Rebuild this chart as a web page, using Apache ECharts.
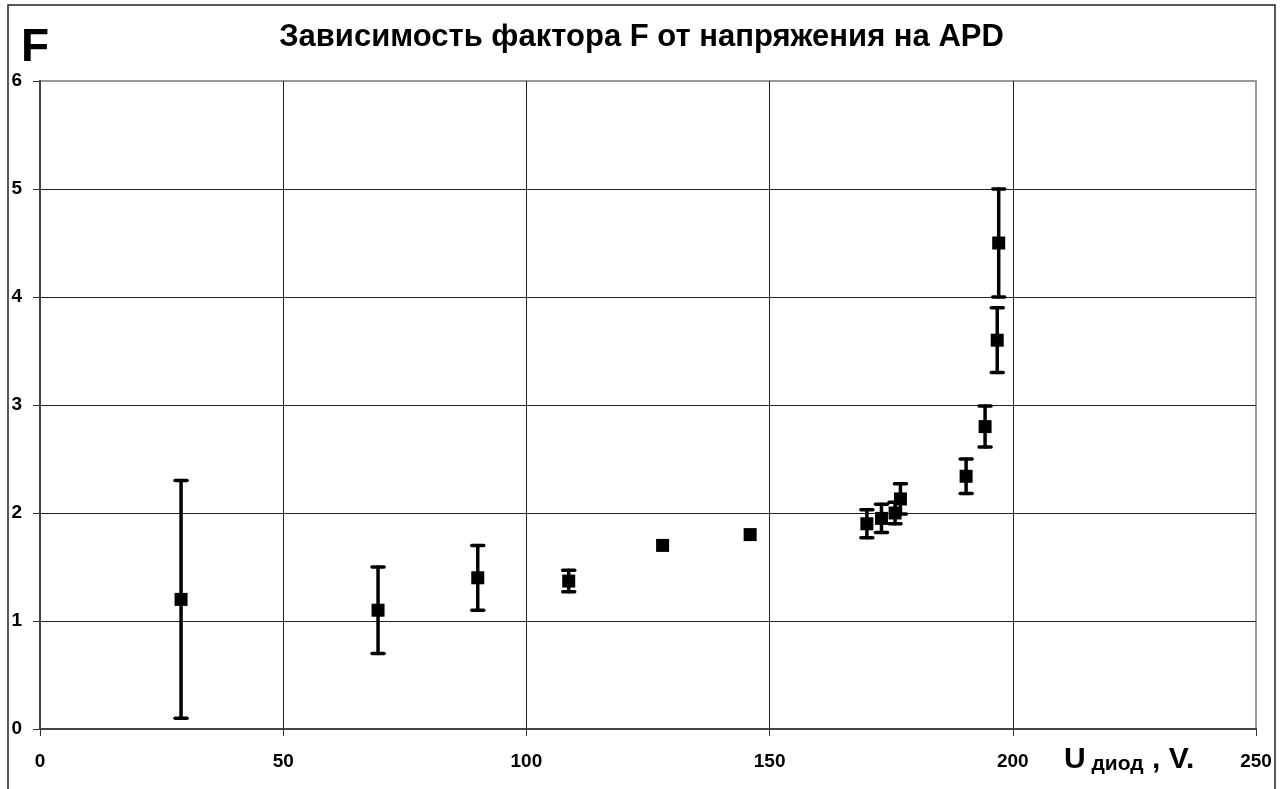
<!DOCTYPE html>
<html>
<head>
<meta charset="utf-8">
<script src="https://cdn.jsdelivr.net/npm/echarts@6/dist/echarts.min.js"></script>
<style>
  html, body { margin: 0; padding: 0; background: #fff; }
  #chart { width: 1283px; height: 789px; }
</style>
</head>
<body>
<div id="chart"></div>
<script>
// Measured excess noise factor F of the APD vs. diode bias voltage
const voltage = [29, 69.5, 90, 108.7, 128, 146, 170, 173, 175.8, 176.9, 190.4, 194.3, 196.8, 197.1];
const factorF = [1.2, 1.1, 1.4, 1.37, 1.7, 1.8, 1.9, 1.95, 2.0, 2.13, 2.34, 2.8, 3.6, 4.5];
const errorF  = [1.1, 0.4, 0.3, 0.1, 0.02, 0.02, 0.13, 0.13, 0.1, 0.14, 0.16, 0.19, 0.3, 0.5];

const xTicks = [0, 50, 100, 150, 200, 250];
const yTicks = [0, 1, 2, 3, 4, 5, 6];

const FONT = '"Liberation Sans", Arial, sans-serif';
const MARKER = 13;

const points = voltage.map((v, i) => [v, factorF[i]]);
const bars = voltage.map((v, i) => [v, factorF[i], errorF[i]]);

const chart = echarts.init(document.getElementById('chart'), null, { renderer: 'canvas' });

chart.setOption({
  backgroundColor: '#fff',
  animation: false,
  title: {
    text: 'Зависимость фактора F от напряжения на APD',
    left: 'center',
    top: 17,
    textStyle: { fontFamily: FONT, fontWeight: 'bold', fontSize: 31, color: '#000' }
  },
  graphic: [
    {
      type: 'rect',
      shape: { x: 8, y: 5, width: 1267, height: 820 },
      style: { fill: 'none', stroke: '#222', lineWidth: 1.5 },
      silent: true, z: -1
    },
    {
      type: 'text',
      left: 21, top: 25,
      style: { text: 'F', fontFamily: FONT, fontWeight: 'bold', fontSize: 46, fill: '#000' }
    },
    {
      type: 'text',
      left: 1064, top: 745,
      style: {
        text: '{b|U}{s| диод}{b| , V.}',
        fontFamily: FONT,
        rich: {
          b: { fontFamily: FONT, fontWeight: 'bold', fontSize: 30, fill: '#000', verticalAlign: 'bottom' },
          s: { fontFamily: FONT, fontWeight: 'bold', fontSize: 21, fill: '#000', padding: [9, 0, 0, 0], verticalAlign: 'bottom' }
        }
      }
    }
  ],
  grid: { left: 40, top: 81, right: 27, bottom: 60, containLabel: false,
          show: true, borderColor: '#999', borderWidth: 2, backgroundColor: '#fff' },
  xAxis: {
    type: 'value',
    min: xTicks[0], max: xTicks[xTicks.length - 1], interval: xTicks[1] - xTicks[0],
    axisLine: { show: true, onZero: false, lineStyle: { color: '#444', width: 2 } },
    axisTick: { show: true, length: 7, lineStyle: { color: '#333', width: 1 } },
    axisLabel: { margin: 23, fontFamily: FONT, fontWeight: 'bold', fontSize: 19, color: '#000' },
    splitLine: { show: true, lineStyle: { color: ['#222', '#222', '#222', '#222', '#222', '#999'], width: 1 } }
  },
  yAxis: {
    type: 'value',
    min: yTicks[0], max: yTicks[yTicks.length - 1], interval: yTicks[1] - yTicks[0],
    axisLine: { show: true, onZero: false, lineStyle: { color: '#444', width: 2 } },
    axisTick: { show: true, length: 7, lineStyle: { color: '#333', width: 1 } },
    axisLabel: { margin: 18, fontFamily: FONT, fontWeight: 'bold', fontSize: 19, color: '#000' },
    splitLine: { show: true, lineStyle: { color: ['#222', '#222', '#222', '#222', '#222', '#222', '#999'], width: 1 } }
  },
  series: [
    {
      // vertical error bars with end caps; bars shorter than the marker stay hidden behind it
      type: 'custom',
      data: bars,
      z: 3,
      renderItem: function (params, api) {
        const x = api.value(0), y = api.value(1), e = api.value(2);
        const top = api.coord([x, y + e]);
        const bot = api.coord([x, y - e]);
        if (bot[1] - top[1] < MARKER) return { type: 'group', children: [] };
        const cap = 6;
        const style = { stroke: '#000', lineWidth: 3.5, lineCap: 'round' };
        return {
          type: 'group',
          children: [
            { type: 'line', shape: { x1: top[0], y1: top[1], x2: bot[0], y2: bot[1] }, style: style },
            { type: 'line', shape: { x1: top[0] - cap, y1: top[1], x2: top[0] + cap, y2: top[1] }, style: style },
            { type: 'line', shape: { x1: bot[0] - cap, y1: bot[1], x2: bot[0] + cap, y2: bot[1] }, style: style }
          ]
        };
      }
    },
    {
      type: 'scatter',
      data: points,
      symbol: 'rect',
      symbolSize: MARKER,
      z: 4,
      itemStyle: { color: '#000', opacity: 1 }
    }
  ]
});
</script>
</body>
</html>
